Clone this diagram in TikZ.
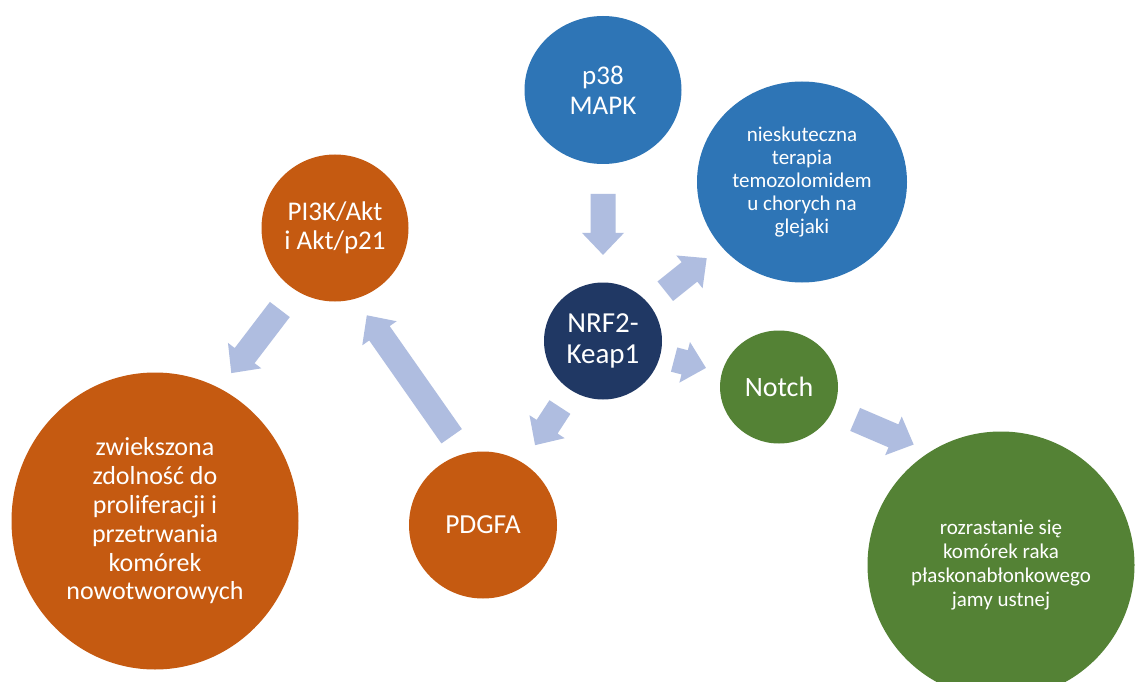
\documentclass[tikz,border=0pt]{standalone}
\usepackage{fontspec}
\setmainfont{Carlito}
\usetikzlibrary{shapes.geometric,calc}
\definecolor{cblue}{HTML}{2E75B6}
\definecolor{cnavy}{HTML}{203864}
\definecolor{corange}{HTML}{C55A11}
\definecolor{cgreen}{HTML}{548235}
\definecolor{carrow}{HTML}{AFBDE0}
\newcommand\blockarrow[2]{%
  \coordinate (ba-h) at ($(#2)!22pt!(#1)$);
  \fill[carrow] ($(#1)!12.5pt!90:(#2)$) -- ($(ba-h)!12.5pt!90:(#2)$) -- ($(ba-h)!21pt!90:(#2)$) -- (#2) -- ($(ba-h)!21pt!-90:(#2)$) -- ($(ba-h)!12.5pt!-90:(#2)$) -- ($(#1)!12.5pt!-90:(#2)$) -- cycle;}
\begin{document}
\begin{tikzpicture}[x=1pt,y=-1pt,
  bub/.style={ellipse,inner sep=0pt,text=white,align=center}]
\useasboundingbox (0,0) rectangle (1144,682);
\clip (0,0) rectangle (1144,682);
\fill[white] (0,0) rectangle (1144,682);
% nodes
\node[bub,fill=cblue,minimum width=157pt,minimum height=148pt,font=\fontsize{27}{29.6}\selectfont] (p38) at (603,90) {p38\\MAPK};
\node[bub,fill=cblue,minimum width=210pt,minimum height=201pt,font=\fontsize{21}{23.2}\selectfont] (niesk) at (802,182) {nieskuteczna\\terapia\\temozolomidem\\u chorych na\\glejaki};
\node[bub,fill=corange,minimum width=147pt,minimum height=147pt,font=\fontsize{27}{29.6}\selectfont] (pi3k) at (335,228) {PI3K/Akt\\i Akt/p21};
\node[bub,fill=cnavy,minimum width=118pt,minimum height=117pt,font=\fontsize{29}{31.8}\selectfont] (nrf) at (603,341) {NRF2-\\Keap1};
\node[bub,fill=cgreen,minimum width=118pt,minimum height=113pt,font=\fontsize{28}{30.8}\selectfont] (notch) at (779,387) {Notch};
\node[bub,fill=corange,minimum width=287pt,minimum height=297pt,font=\fontsize{26}{28.8}\selectfont] (zwiek) at (155,521) {zwiekszona\\zdolność do\\proliferacji i\\przetrwania\\komórek\\nowotworowych};
\node[bub,fill=corange,minimum width=148pt,minimum height=147pt,font=\fontsize{27.5}{30}\selectfont] (pdgfa) at (483,525) {PDGFA};
\node[bub,fill=cgreen,minimum width=267pt,minimum height=267pt,font=\fontsize{21}{24}\selectfont] (roz) at (1001,565) {rozrastanie się\\komórek raka\\płaskonabłonkowego\\jamy ustnej};
% arrow ends
\coordinate (a1s) at ($(p38.center)!0.414!(nrf.center)$);
\coordinate (a1e) at ($(p38.center)!0.657!(nrf.center)$);
\coordinate (a2s) at ($(nrf.center)!0.313!(niesk.center)$);
\coordinate (a2e) at ($(nrf.center)!0.521!(niesk.center)$);
\coordinate (a3s) at ($(nrf.center)!0.404!(notch.center)$);
\coordinate (a3e) at ($(nrf.center)!0.585!(notch.center)$);
\coordinate (a4s) at ($(notch.-23)!0.227!(roz.122)$);
\coordinate (a4e) at ($(notch.-23)!0.83!(roz.122)$);
\coordinate (a5s) at ($(nrf.center)!0.359!(pdgfa.center)$);
\coordinate (a5e) at ($(nrf.center)!0.566!(pdgfa.center)$);
\coordinate (a6s) at ($(pdgfa.105)!0.113!(pi3k.-74)$);
\coordinate (a6e) at ($(pdgfa.105)!0.894!(pi3k.-74)$);
\coordinate (a7s) at ($(pi3k.-123)!0.2!(zwiek.64)$);
\coordinate (a7e) at ($(pi3k.-123)!0.846!(zwiek.64)$);
% arrows
\blockarrow{a1s}{a1e}
\blockarrow{a2s}{a2e}
\blockarrow{a3s}{a3e}
\blockarrow{a4s}{a4e}
\blockarrow{a5s}{a5e}
\blockarrow{a6s}{a6e}
\blockarrow{a7s}{a7e}
\end{tikzpicture}
\end{document}
